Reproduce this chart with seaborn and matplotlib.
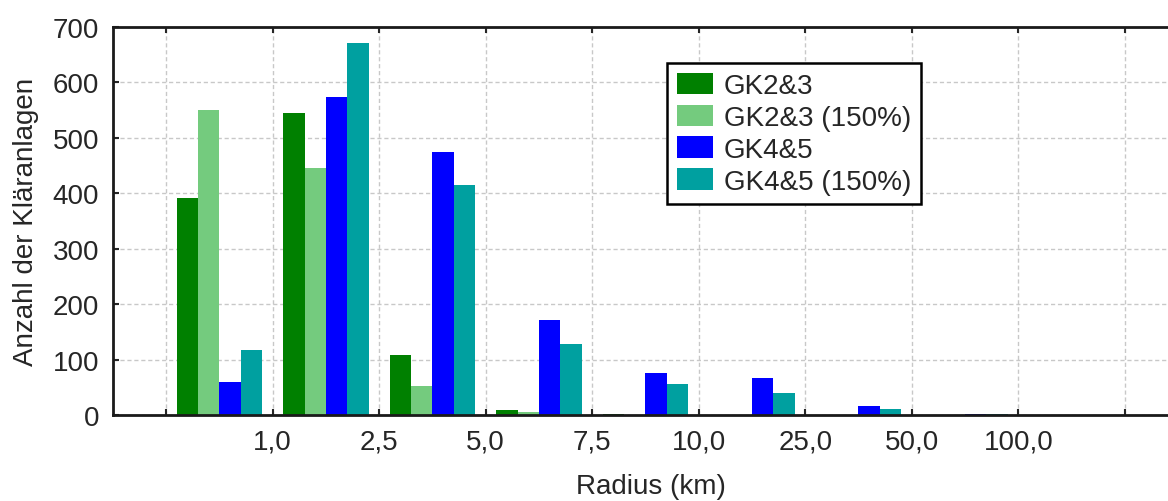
import pandas as pd
import matplotlib
matplotlib.use('Agg')
import matplotlib.pyplot as plt
import seaborn as sns

bins = ['0-1', '1-2.5', '2.5-5', '5-7.5', '7.5-10', '10-25', '25-50', '50-100', '>100']
gk23 = [392, 545, 108, 9, 1, 0, 0, 0, 0]
gk23_150 = [550, 446, 52, 5, 0, 0, 0, 0, 0]
gk45 = [59, 574, 475, 172, 76, 67, 16, 1, 0]
gk45_150 = [117, 671, 415, 128, 56, 40, 11, 1, 0]
series = ['GK2&3', 'GK2&3 (150%)', 'GK4&5', 'GK4&5 (150%)']
colors = ['#008000', '#74CB7E', '#0000FF', '#00A0A0']
edge_labels = ['', '1,0', '2,5', '5,0', '7,5', '10,0', '25,0', '50,0', '100,0', '']

rows = []
for name, vals in zip(series, [gk23, gk23_150, gk45, gk45_150]):
    for b, v in zip(bins, vals):
        rows.append({'bin': b, 'series': name, 'count': v})
df = pd.DataFrame(rows)

sns.set_style('white')
plt.rcParams['font.family'] = ['Liberation Sans', 'DejaVu Sans']
fs = 20

fig = plt.figure(figsize=(11.68, 5.02), dpi=100)
ax = fig.add_axes([0.0967, 0.1713, 0.921, 0.773])

sns.barplot(data=df, x='bin', y='count', hue='series', order=bins,
            hue_order=series, palette=colors, width=0.8, saturation=1,
            linewidth=0, ax=ax)

ax.set_xlim(-1, 9.1)
ax.set_ylim(0, 700)
ax.set_xticks([i - 0.5 for i in range(len(edge_labels))])
ax.set_xticklabels(edge_labels, fontsize=fs)
ax.set_yticks(range(0, 701, 100))
ax.tick_params(axis='y', labelsize=fs, pad=10)
ax.tick_params(axis='x', pad=10)
ax.tick_params(direction='in', length=4, width=1.5, top=True, left=True, bottom=True, right=False)
ax.grid(True, linestyle=(0, (3, 2)), color='#c8c8c8', linewidth=1)
ax.set_axisbelow(True)
for s in ['left', 'bottom', 'top']:
    ax.spines[s].set_color('#1a1a1a')
    ax.spines[s].set_linewidth(2)
ax.spines['right'].set_visible(False)

ax.set_xlabel('Radius (km)', fontsize=fs, labelpad=13)
ax.set_ylabel('Anzahl der Kläranlagen', fontsize=fs, labelpad=10)

leg = ax.legend(loc='upper left', bbox_to_anchor=(0.515, 0.907), fontsize=fs,
                frameon=True, fancybox=False, handlelength=1.3, handleheight=0.8,
                handletextpad=0.4, labelspacing=0.2, borderpad=0.35, borderaxespad=0)
leg.get_frame().set_edgecolor('black')
leg.get_frame().set_linewidth(1.8)
leg.get_frame().set_alpha(1)

fig.savefig('out.png', dpi=100)
